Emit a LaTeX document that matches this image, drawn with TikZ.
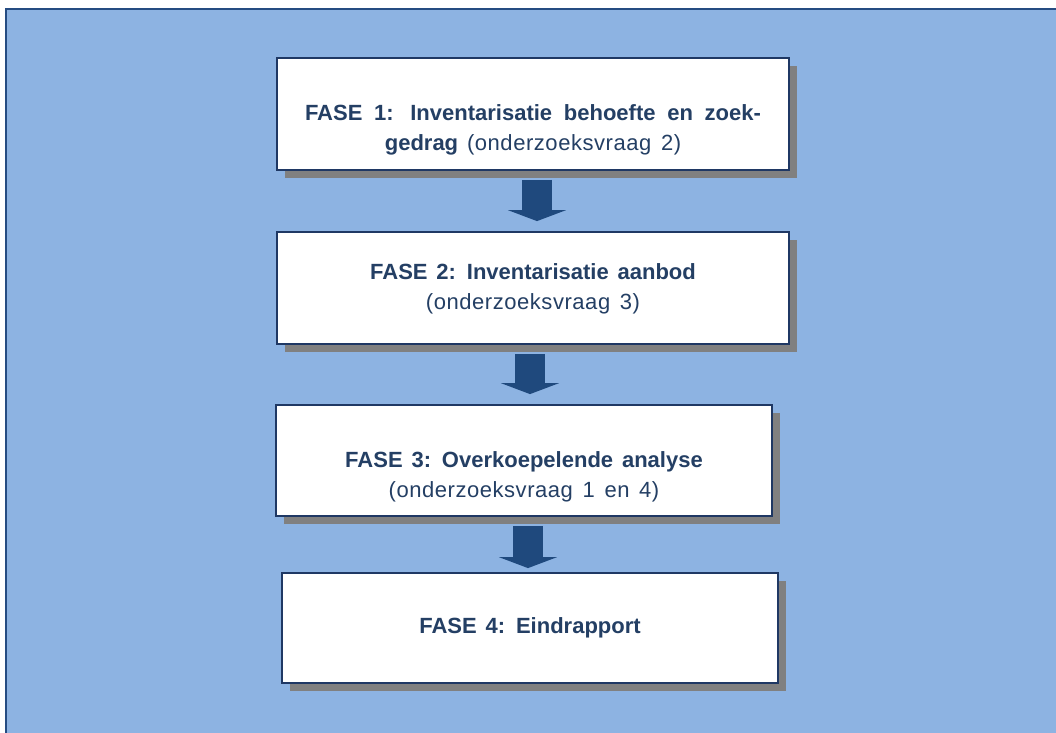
\documentclass[tikz,border=0pt]{standalone}
\usepackage{fontspec}
\setmainfont{Liberation Sans}[WordSpace=1.45]
\newfontfamily\vraagfont{Liberation Sans}[WordSpace=1.45, LetterSpace=2.5]
\usetikzlibrary{shadows,arrows.meta}

\definecolor{achtergrond}{RGB}{141,179,226}
\definecolor{rand}{RGB}{37,76,130}
\definecolor{kader}{RGB}{31,56,100}
\definecolor{pijl}{RGB}{31,73,125}
\definecolor{tekst}{RGB}{36,63,100}
\definecolor{schaduw}{RGB}{128,128,128}

\newcommand{\vraag}[1]{{\vraagfont #1}}

\tikzset{
  fase/.style={draw=kader, line width=0.9pt, fill=white, rectangle,
    drop shadow={shadow xshift=4pt, shadow yshift=-4pt, fill=schaduw, opacity=1}},
  fasetekst/.style={text=tekst, align=center, font=\fontsize{11}{15}\selectfont},
  blokpijl/.style={draw=pijl, line width=15pt,
    -{Triangle[width=29pt, length=5.5pt]}}
}

\begin{document}
\begin{tikzpicture}[x=0.5pt, y=-0.5pt]
  \useasboundingbox (0,0) rectangle (1056,733);
  % achtergrond
  \fill[achtergrond] (5,8) rectangle (1056,733);
  \draw[rand, line width=1.25pt] (6.2,733) -- (6.2,9.2) -- (1056,9.2);

  % fasen
  \node[fase, minimum width=256pt, minimum height=56pt] (f1) at (533,114) {};
  \node[fase, minimum width=256pt, minimum height=56pt] (f2) at (533,288) {};
  \node[fase, minimum width=248pt, minimum height=55.5pt] (f3) at (524,460.5) {};
  \node[fase, minimum width=248pt, minimum height=55pt] (f4) at (530,628) {};

  \node[fasetekst] (t1) at (533,130) {\makebox[228pt][s]{\bfseries FASE 1: Inventarisatie behoefte en zoek-}\\\textbf{gedrag} \vraag{(onderzoeksvraag 2)}};
  \node[fasetekst] (t2) at (533,289) {\textbf{FASE 2: Inventarisatie aanbod}\\\vraag{(onderzoeksvraag 3)}};
  \node[fasetekst] (t3) at (524,476.5) {\textbf{FASE 3: Overkoepelende analyse}\\\vraag{(onderzoeksvraag 1 en 4)}};
  \node[fasetekst] (t4) at (530,628) {\textbf{FASE 4: Eindrapport}};

  % pijlen
  \draw[blokpijl] ([xshift=2pt,yshift=-4.5pt]f1.south) -- ([xshift=2pt,yshift=5pt]f2.north);
  \draw[blokpijl] ([xshift=-1.5pt,yshift=-4.5pt]f2.south) -- ([xshift=3pt,yshift=5pt]f3.north);
  \draw[blokpijl] ([xshift=2pt,yshift=-4.5pt]f3.south) -- ([xshift=-1pt,yshift=2pt]f4.north);
\end{tikzpicture}
\end{document}
